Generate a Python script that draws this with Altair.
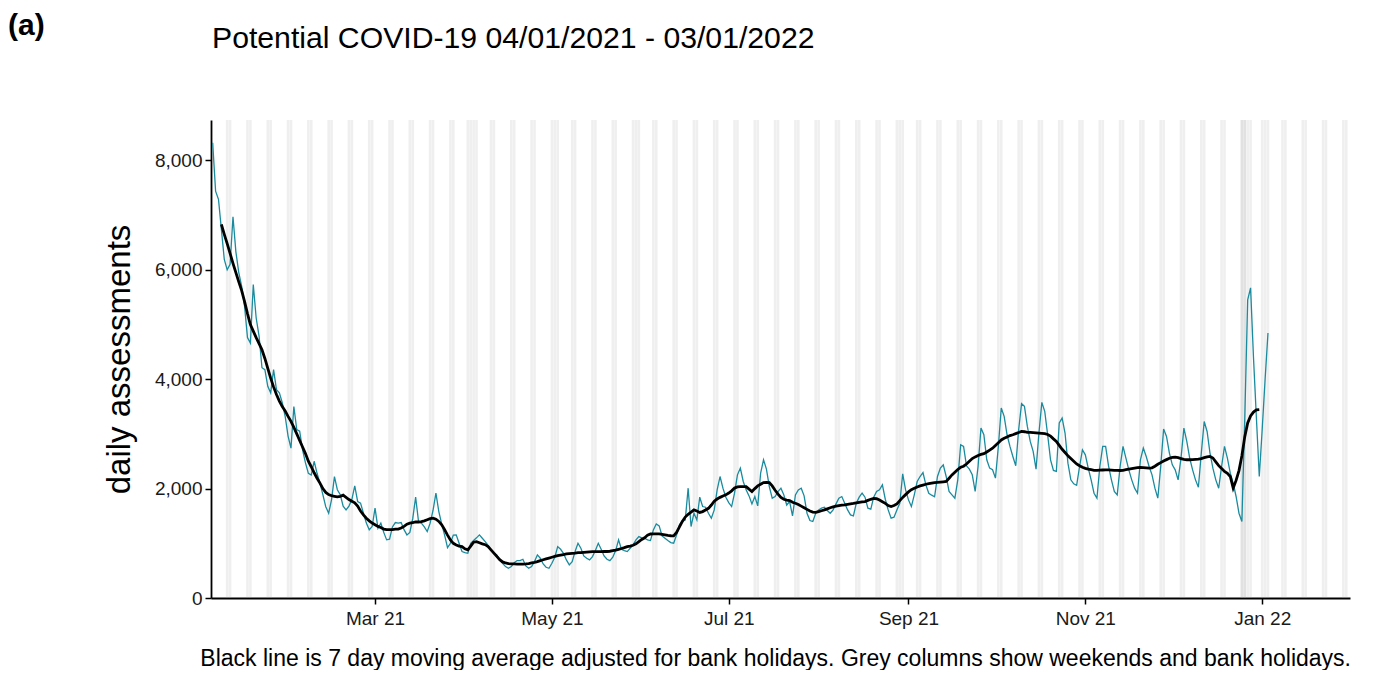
import altair as alt
import pandas as pd

START = "2021-01-04"
MA_START = "2021-01-07"

daily_assessments = [
    8325, 7440, 7290, 6740, 6190, 6000, 6100,
    6970, 6330, 5950, 5700, 5330, 4760, 4660,
    5730, 5120, 4790, 4210, 4175, 3870, 3750,
    4175, 3810, 3750, 3570, 3320, 2960, 2740,
    3500, 3080, 3050, 2710, 2470, 2280, 2250,
    2500, 2280, 2100, 1890, 1670, 1550, 1800,
    2220, 1980, 1890, 1680, 1610, 1680, 1800,
    2050, 1765, 1735, 1550, 1370, 1246, 1307,
    1642, 1276, 1370, 1200, 1063, 1075, 1300,
    1380, 1370, 1380, 1250, 1154, 1200, 1450,
    1844, 1398, 1368, 1300, 1215, 1368, 1600,
    1917, 1580, 1350, 1150, 920, 1000, 1150,
    1154, 1000, 849, 830, 818, 1000, 1050,
    1100, 1154, 1093, 1030, 960, 880, 820,
    788, 696, 635, 574, 544, 574, 647,
    684, 684, 708, 586, 544, 574, 666,
    788, 727, 623, 562, 544, 635, 745,
    940, 891, 818, 696, 605, 666, 849,
    1001, 910, 770, 727, 696, 757, 867,
    1001, 891, 770, 708, 684, 745, 867,
    1062, 891, 867, 849, 910, 971, 1062,
    1123, 1100, 1092, 1062, 1050, 1245, 1355,
    1318, 1135, 1092, 1050, 1013, 1001, 1153,
    1337, 1416, 1428, 2008, 1306, 1550, 1428,
    1843, 1672, 1660, 1550, 1459, 1611, 1977,
    2221, 2008, 1843, 1745, 1672, 1916, 2252,
    2374, 2130, 1977, 1867, 1721, 1855, 1684,
    2282, 2527, 2356, 2038, 1825, 1855, 1947,
    2008, 1886, 1700, 1764, 1501, 1886, 1977,
    2008, 1867, 1550, 1416, 1398, 1550, 1611,
    1642, 1660, 1599, 1550, 1611, 1721, 1825,
    1855, 1733, 1611, 1520, 1501, 1733, 1843,
    1916, 1843, 1642, 1623, 1843, 1947, 1977,
    2069, 1806, 1611, 1459, 1477, 1611, 1733,
    2270, 1977, 1794, 1672, 1886, 2130, 2221,
    2295, 2069, 1916, 1880, 1850, 2222, 2375,
    2436, 2222, 1948, 1886, 1825, 2161, 2802,
    2771, 2417, 2356, 2253, 1948, 2405, 3107,
    2985, 2527, 2375, 2344, 2192, 2771, 3473,
    3321, 2985, 2771, 2588, 2417, 3077, 3553,
    3504, 3138, 2863, 2680, 2356, 3016, 3577,
    3412, 2985, 2527, 2332, 2314, 3199, 3290,
    3016, 2466, 2161, 2088, 2060, 2400, 2710,
    2618, 2374, 2160, 1916, 1825, 2405, 2771,
    2771, 2417, 2160, 1947, 1886, 2405, 2771,
    2557, 2343, 2160, 2008, 1916, 2527, 2740,
    2588, 2405, 2252, 2008, 1825, 2405, 3088,
    2954, 2649, 2435, 2343, 2160, 2557, 3106,
    2862, 2557, 2343, 2160, 2026, 2649, 3228,
    3045, 2649, 2374, 2160, 2008, 2405, 2771,
    2558, 2283, 2100, 1856, 1550, 1400, 3300,
    5450, 5670, 4400, 3300, 2222, 3077, 3992,
    4846,
]

moving_average = [
    6830, 6650, 6480, 6300, 6120, 5950, 5780,
    5620, 5420, 5200, 5000, 4880, 4760, 4650,
    4540, 4380, 4200, 4020, 3860, 3720, 3600,
    3500, 3420, 3320, 3230, 3120, 3000, 2880,
    2760, 2640, 2500, 2400, 2290, 2190, 2100,
    2000, 1930, 1890, 1870, 1860, 1850, 1860,
    1880, 1840, 1800, 1770, 1740, 1680, 1590,
    1520, 1460, 1410, 1370, 1340, 1310, 1290,
    1260, 1250, 1250, 1250, 1260, 1260, 1280,
    1310, 1350, 1370, 1380, 1390, 1390, 1395,
    1410, 1430, 1450, 1460, 1440, 1400, 1340,
    1250, 1150, 1060, 1000, 970, 950, 940,
    900, 880, 950, 1020, 1030, 1010, 990,
    975, 940, 880, 820, 760, 700, 660,
    640, 630, 625, 623, 620, 620, 620,
    623, 630, 640, 650, 665, 684, 700,
    715, 730, 745, 760, 775, 785, 795,
    805, 810, 815, 820, 828, 830, 835,
    840, 845, 848, 849, 849, 849, 850,
    850, 855, 865, 875, 890, 905, 920,
    940, 950, 965, 990, 1030, 1070, 1100,
    1150, 1170, 1172, 1172, 1172, 1165, 1155,
    1145, 1138, 1135, 1200, 1300, 1400, 1480,
    1530, 1570, 1610, 1590, 1565, 1580, 1610,
    1640, 1700, 1770, 1810, 1840, 1865, 1886,
    1920, 1960, 2010, 2030, 2035, 2038, 2035,
    1990, 1947, 2000, 2050, 2080, 2110, 2115,
    2111, 2050, 1970, 1900, 1840, 1806, 1790,
    1782, 1750, 1733, 1710, 1680, 1650, 1620,
    1590, 1570, 1565, 1580, 1595, 1611, 1630,
    1650, 1665, 1680, 1690, 1698, 1703, 1712,
    1722, 1730, 1740, 1750, 1758, 1764, 1785,
    1805, 1820, 1815, 1790, 1760, 1730, 1690,
    1672, 1690, 1720, 1780, 1840, 1890, 1940,
    1980, 2005, 2030, 2050, 2065, 2080, 2090,
    2100, 2111, 2115, 2120, 2125, 2131, 2190,
    2250, 2300, 2350, 2390, 2410, 2450, 2500,
    2550, 2580, 2605, 2625, 2640, 2670, 2705,
    2740, 2790, 2840, 2890, 2920, 2945, 2970,
    2985, 3005, 3025, 3046, 3040, 3030, 3028,
    3025, 3020, 3016, 3010, 3005, 2990, 2960,
    2910, 2863, 2790, 2720, 2660, 2600, 2550,
    2500, 2450, 2417, 2390, 2370, 2355, 2345,
    2335, 2335, 2338, 2340, 2342, 2343, 2340,
    2335, 2332, 2331, 2335, 2345, 2355, 2365,
    2375, 2382, 2386, 2384, 2380, 2376, 2380,
    2410, 2445, 2475, 2505, 2530, 2555, 2570,
    2575, 2565, 2550, 2535, 2528, 2528, 2532,
    2536, 2539, 2550, 2565, 2580, 2588, 2560,
    2490, 2420, 2370, 2313, 2280, 2222, 2010,
    2150, 2330, 2600, 2950, 3200, 3330, 3400,
    3440, 3445,
]

bank_holidays = [
    "2021-04-02", "2021-04-05", "2021-05-03", "2021-05-31", "2021-08-30",
    "2021-12-25", "2021-12-26", "2021-12-27", "2021-12-28", "2022-01-03",
]
weekend_first, weekend_last = "2021-01-09", "2022-01-30"

x_tick_dates = ["2021-03-01", "2021-05-01", "2021-07-01", "2021-09-01", "2021-11-01", "2022-01-01"]
y_ticks = [0, 2000, 4000, 6000, 8000]

title_text = "Potential COVID-19 04/01/2021 - 03/01/2022"
panel_label = "(a)"
caption_text = ("Black line is 7 day moving average adjusted for bank holidays. "
                "Grey columns show weekends and bank holidays.")
y_title = "daily assessments"

FONT = "Liberation Sans"

# ---- tables ----
dates = pd.date_range(START, periods=len(daily_assessments), freq="D")
raw_df = pd.DataFrame({"date": dates.strftime("%Y-%m-%d"), "value": daily_assessments})

ma_dates = pd.date_range(MA_START, periods=len(moving_average), freq="D")
ma_df = pd.DataFrame({"date": ma_dates.strftime("%Y-%m-%d"), "value": moving_average})

all_days = pd.date_range(weekend_first, weekend_last, freq="D")
weekends = all_days[all_days.dayofweek >= 5]
grey_df = pd.DataFrame({"date": list(weekends.strftime("%Y-%m-%d")) + bank_holidays})


def dt(s, hours=0):
    t = pd.Timestamp(s)
    return alt.DateTime(year=t.year, month=t.month, date=t.day, hours=hours, utc=True)


x_scale = alt.Scale(type="utc", domain=[dt("2021-01-03", 10), dt("2022-01-31", 7)])
x_axis = alt.Axis(values=[dt(s) for s in x_tick_dates], format="%b %y", title=None,
                  labelPadding=5, labelFlush=False)
y_enc = alt.Y("value:Q", scale=alt.Scale(domain=[0, 8740], nice=False),
              axis=alt.Axis(values=y_ticks, format=",d", title=y_title,
                            labelPadding=3, titlePadding=18))

grey = alt.Chart(grey_df).mark_rule(color="#9a9a9a", opacity=0.16, strokeWidth=2.6).encode(
    x=alt.X("date:T", scale=x_scale, axis=x_axis)
)

teal = alt.Chart(raw_df).mark_line(color="#1a8b9e", strokeWidth=1.3).encode(
    x=alt.X("date:T", scale=x_scale, axis=x_axis),
    y=y_enc,
)

black = alt.Chart(ma_df).mark_line(color="black", strokeWidth=2.8).encode(
    x=alt.X("date:T", scale=x_scale, axis=x_axis),
    y=y_enc,
)

one = pd.DataFrame({"k": [0]})
title_mark = alt.Chart(one).mark_text(
    text=title_text, font=FONT, fontSize=30.2, align="left", baseline="alphabetic", color="black"
).encode(x=alt.value(1), y=alt.value(-72))

label_mark = alt.Chart(one).mark_text(
    text=panel_label, font=FONT, fontSize=30, fontWeight="bold", align="left",
    baseline="alphabetic", color="black"
).encode(x=alt.value(-203), y=alt.value(-85))

caption_mark = alt.Chart(one).mark_text(
    text=caption_text, font=FONT, fontSize=23, align="right", baseline="alphabetic", color="black"
).encode(x=alt.value(1140), y=alt.value(546))

chart = alt.layer(grey, teal, black, title_mark, label_mark, caption_mark).properties(
    width=1139,
    height=478,
    autosize=alt.AutoSizeParams(type="none"),
    padding={"left": 203, "top": 112, "right": 3, "bottom": 72},
).configure_view(stroke=None).configure_axis(
    grid=False,
    domainColor="black",
    domainWidth=1.8,
    tickColor="black",
    tickWidth=1.5,
    tickSize=6,
    labelFont=FONT,
    labelFontSize=19,
    labelColor="#1a1a1a",
    titleFont=FONT,
    titleFontSize=33,
    titleFontWeight="normal",
    titleColor="black",
)

chart.save("out.html", embed_options={"renderer": "svg", "actions": False})
